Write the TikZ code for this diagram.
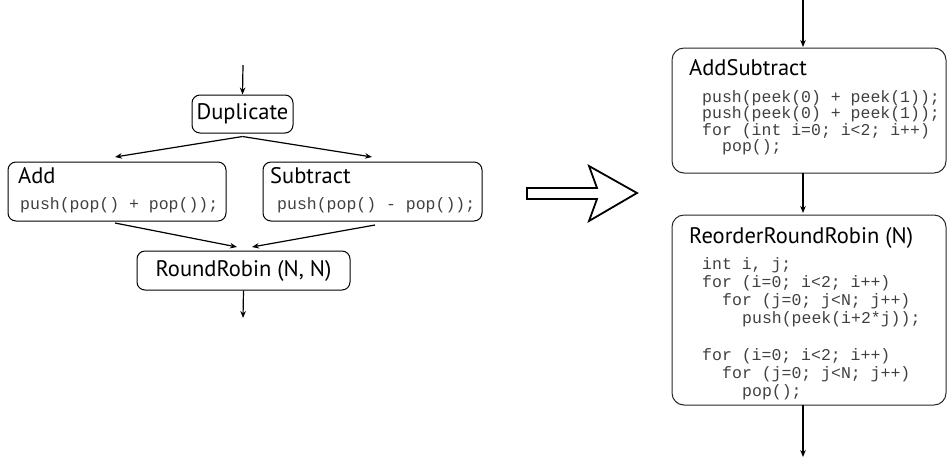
\documentclass[tikz,border=0pt]{standalone}
\usepackage{fontspec}
\setmainfont{PT Sans}
\setmonofont{Liberation Mono}
\usetikzlibrary{arrows.meta}
\begin{document}
\begin{tikzpicture}[x=1pt,y=-1pt,
  box/.style={draw=black,line width=1pt,rounded corners=8pt,inner sep=0pt},
  bigbox/.style={draw=black!85,line width=1pt,rounded corners=12pt,inner sep=0pt},
  ttl/.style={font=\fontsize{22.5}{24}\selectfont,inner sep=0pt},
  code/.style={font=\fontsize{16.5}{16.5}\ttfamily,text=black!75,inner sep=0pt,anchor=base west},
  flow/.style={line width=1.2pt,-{Stealth[length=7pt,width=5.5pt]}},
]
\useasboundingbox (0,0) rectangle (947,459);
% left graph
\node[box,minimum width=101pt,minimum height=38pt] (dup) at (242.5,114) {};
\node[ttl] (duptxt) at (dup.center) {Duplicate};
\node[box,minimum width=218pt,minimum height=59pt] (add) at (117,191.5) {};
\node[ttl,anchor=base west] (addtxt) at (18,183) {Add};
\node[code] (addcode) at (20,209) {push(pop() + pop());};
\node[box,minimum width=219pt,minimum height=59pt] (sub) at (372.5,191.5) {};
\node[ttl,anchor=base west] (subtxt) at (270,183) {Subtract};
\node[code] (subcode) at (277,209) {push(pop() - pop());};
\node[box,minimum width=213pt,minimum height=39pt] (rr) at (243.5,270.5) {};
\node[ttl] (rrtxt) at (rr.center) {RoundRobin (N, N)};
\coordinate (inL) at (243,65);
\coordinate (outL) at (243,318);
\coordinate (addtop) at (115,157);
\coordinate (subtop) at (372,157);
\coordinate (addbot) at (115,223);
\coordinate (subbot) at (375,225);
\coordinate (rrinA) at (237,247);
\coordinate (rrinB) at (252,247);
\draw[flow] (inL) -- (dup.north);
\draw[flow] (dup.south) ++(0,3) -- (addtop);
\draw[flow] (dup.south) ++(0,3) -- (subtop);
\draw[flow] (addbot) -- (rrinA);
\draw[flow] (subbot) -- (rrinB);
\draw[flow] (rr.south) -- (outL);
% big hollow arrow
\draw[line width=1.8pt,line join=miter,fill=white] (527,188) -- (597,188) -- (589,166) -- (637,193) -- (589,221) -- (597,199) -- (527,199) -- cycle;
% right graph
\node[bigbox,minimum width=274pt,minimum height=125pt] (as) at (809,110.5) {};
\node[ttl,anchor=base west] (astxt) at (689,75) {AddSubtract};
\node[code] (asc1) at (702,102) {push(peek(0) + peek(1));};
\node[code] (asc2) at (702,118.5) {push(peek(0) + peek(1));};
\node[code] (asc3) at (702,135) {for (int i=0; i<2; i++)};
\node[code] (asc4) at (722,151.5) {pop();};
\node[bigbox,minimum width=274pt,minimum height=190pt] (rrr) at (809,310) {};
\node[ttl,anchor=base west] (rrrtxt) at (689,243) {ReorderRoundRobin (N)};
\node[code] (rc1) at (702,269) {int i, j;};
\node[code] (rc2) at (702,287.2) {for (i=0; i<2; i++)};
\node[code] (rc3) at (722,305.4) {for (j=0; j<N; j++)};
\node[code] (rc4) at (742,323.6) {push(peek(i+2*j));};
\node[code] (rc5) at (702,360) {for (i=0; i<2; i++)};
\node[code] (rc6) at (722,378.2) {for (j=0; j<N; j++)};
\node[code] (rc7) at (742,396.4) {pop();};
\coordinate (inR) at (803,0);
\coordinate (astop) at (803,47);
\coordinate (asbot) at (803,173);
\coordinate (rrrtop) at (803,213);
\coordinate (rrrbot) at (803,405);
\coordinate (outR) at (803,457);
\draw[flow] (inR) -- (astop);
\draw[flow] (asbot) -- (rrrtop);
\draw[flow] (rrrbot) -- (outR);
\end{tikzpicture}
\end{document}
